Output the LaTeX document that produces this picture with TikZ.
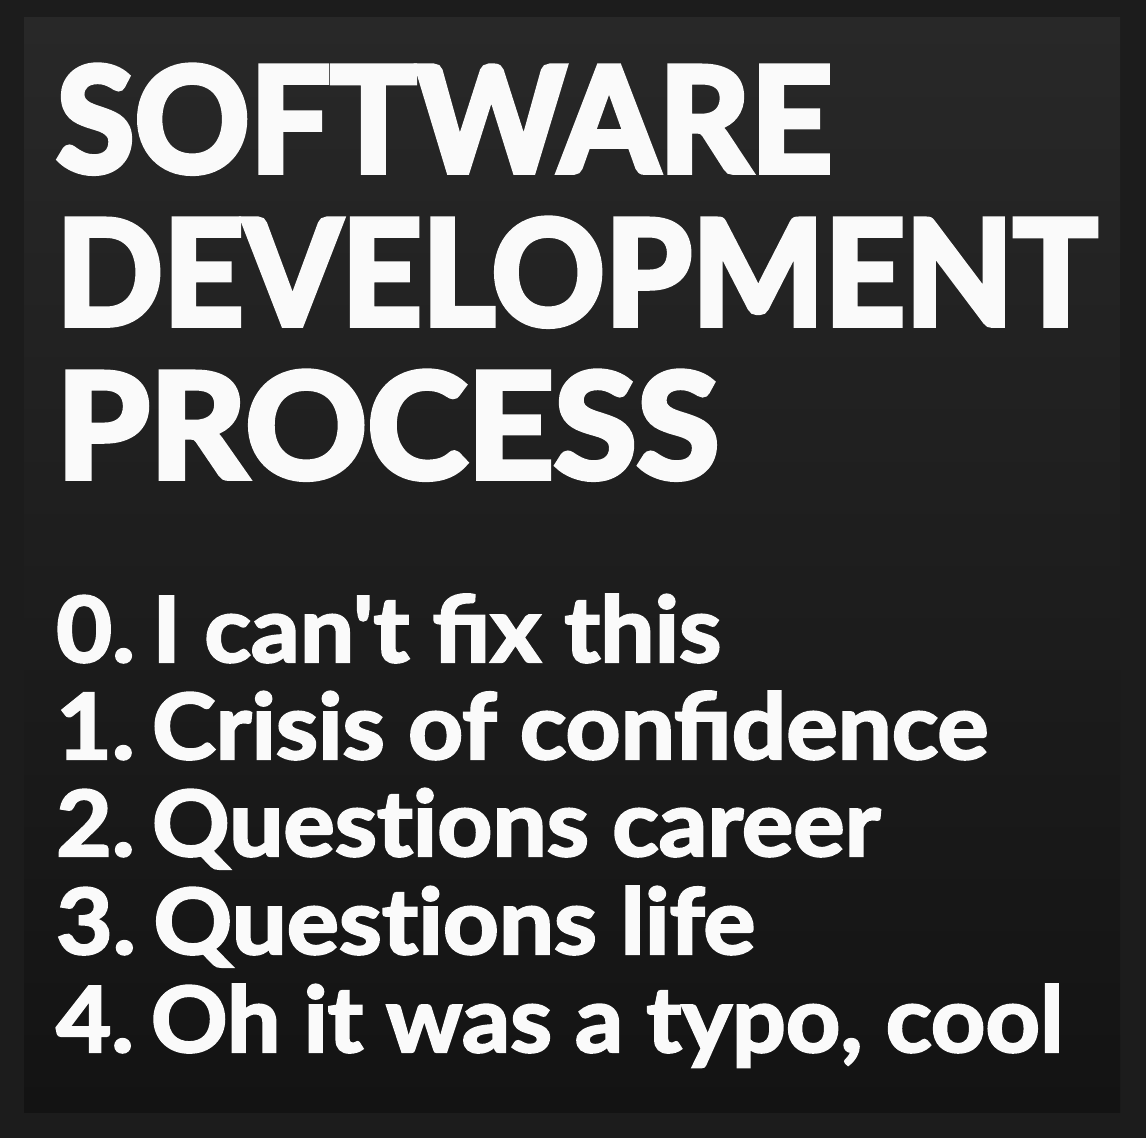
\documentclass[tikz,border=0pt]{standalone}
\usepackage{fontspec}
\newfontfamily\titlefont{Lato Black}[Ligatures=TeXOff,FakeBold=4]
\newfontfamily\listfont{Lato Black}[Ligatures=TeXOff,FakeBold=2.5]
\definecolor{outerbg}{HTML}{1C1C1C}
\definecolor{innertop}{HTML}{282828}
\definecolor{innerbot}{HTML}{131313}
\definecolor{ink}{HTML}{FAFAFA}
\newcommand\fitto[2]{\resizebox{#1pt}{\height}{#2}}
\begin{document}
\begin{tikzpicture}[x=1pt,y=1pt,
  titletext/.style={anchor=base west,inner sep=0pt,text=ink,font=\titlefont\bfseries\fontsize{146}{150}\selectfont},
  itemtext/.style={anchor=base west,inner sep=0pt,text=ink,font=\listfont\bfseries\fontsize{91}{95}\selectfont}]
\useasboundingbox (0,0) rectangle (1146,1138);
\fill[outerbg] (0,0) rectangle (1146,1138);
\shade[top color=innertop,bottom color=innerbot] (24,1138-1113) rectangle (1120,1138-18);
\node[titletext] (t1) at (56,1138-172) {\fitto{776}{SOFTWARE}};
\node[titletext] (t2) at (56,1138-325) {\fitto{1041}{DEVELOPMENT}};
\node[titletext] (t3) at (56,1138-478) {\fitto{663}{PROCESS}};
\node[itemtext] (l0) at (56,1138-662) {\fitto{665}{0.\hspace{0.18em}I can't fix this}};
\node[itemtext] (l1) at (56,1138-759) {\fitto{932}{1.\hspace{0.18em}Crisis of confidence}};
\node[itemtext] (l2) at (56,1138-856) {\fitto{824}{2.\hspace{0.18em}Quest\kern0pt ions career}};
\node[itemtext] (l3) at (56,1138-954) {\fitto{699}{3.\hspace{0.18em}Quest\kern0pt ions life}};
\node[itemtext] (l4) at (56,1138-1052) {\fitto{1007}{4.\hspace{0.18em}Oh it was a typo, cool}};
\end{tikzpicture}
\end{document}
